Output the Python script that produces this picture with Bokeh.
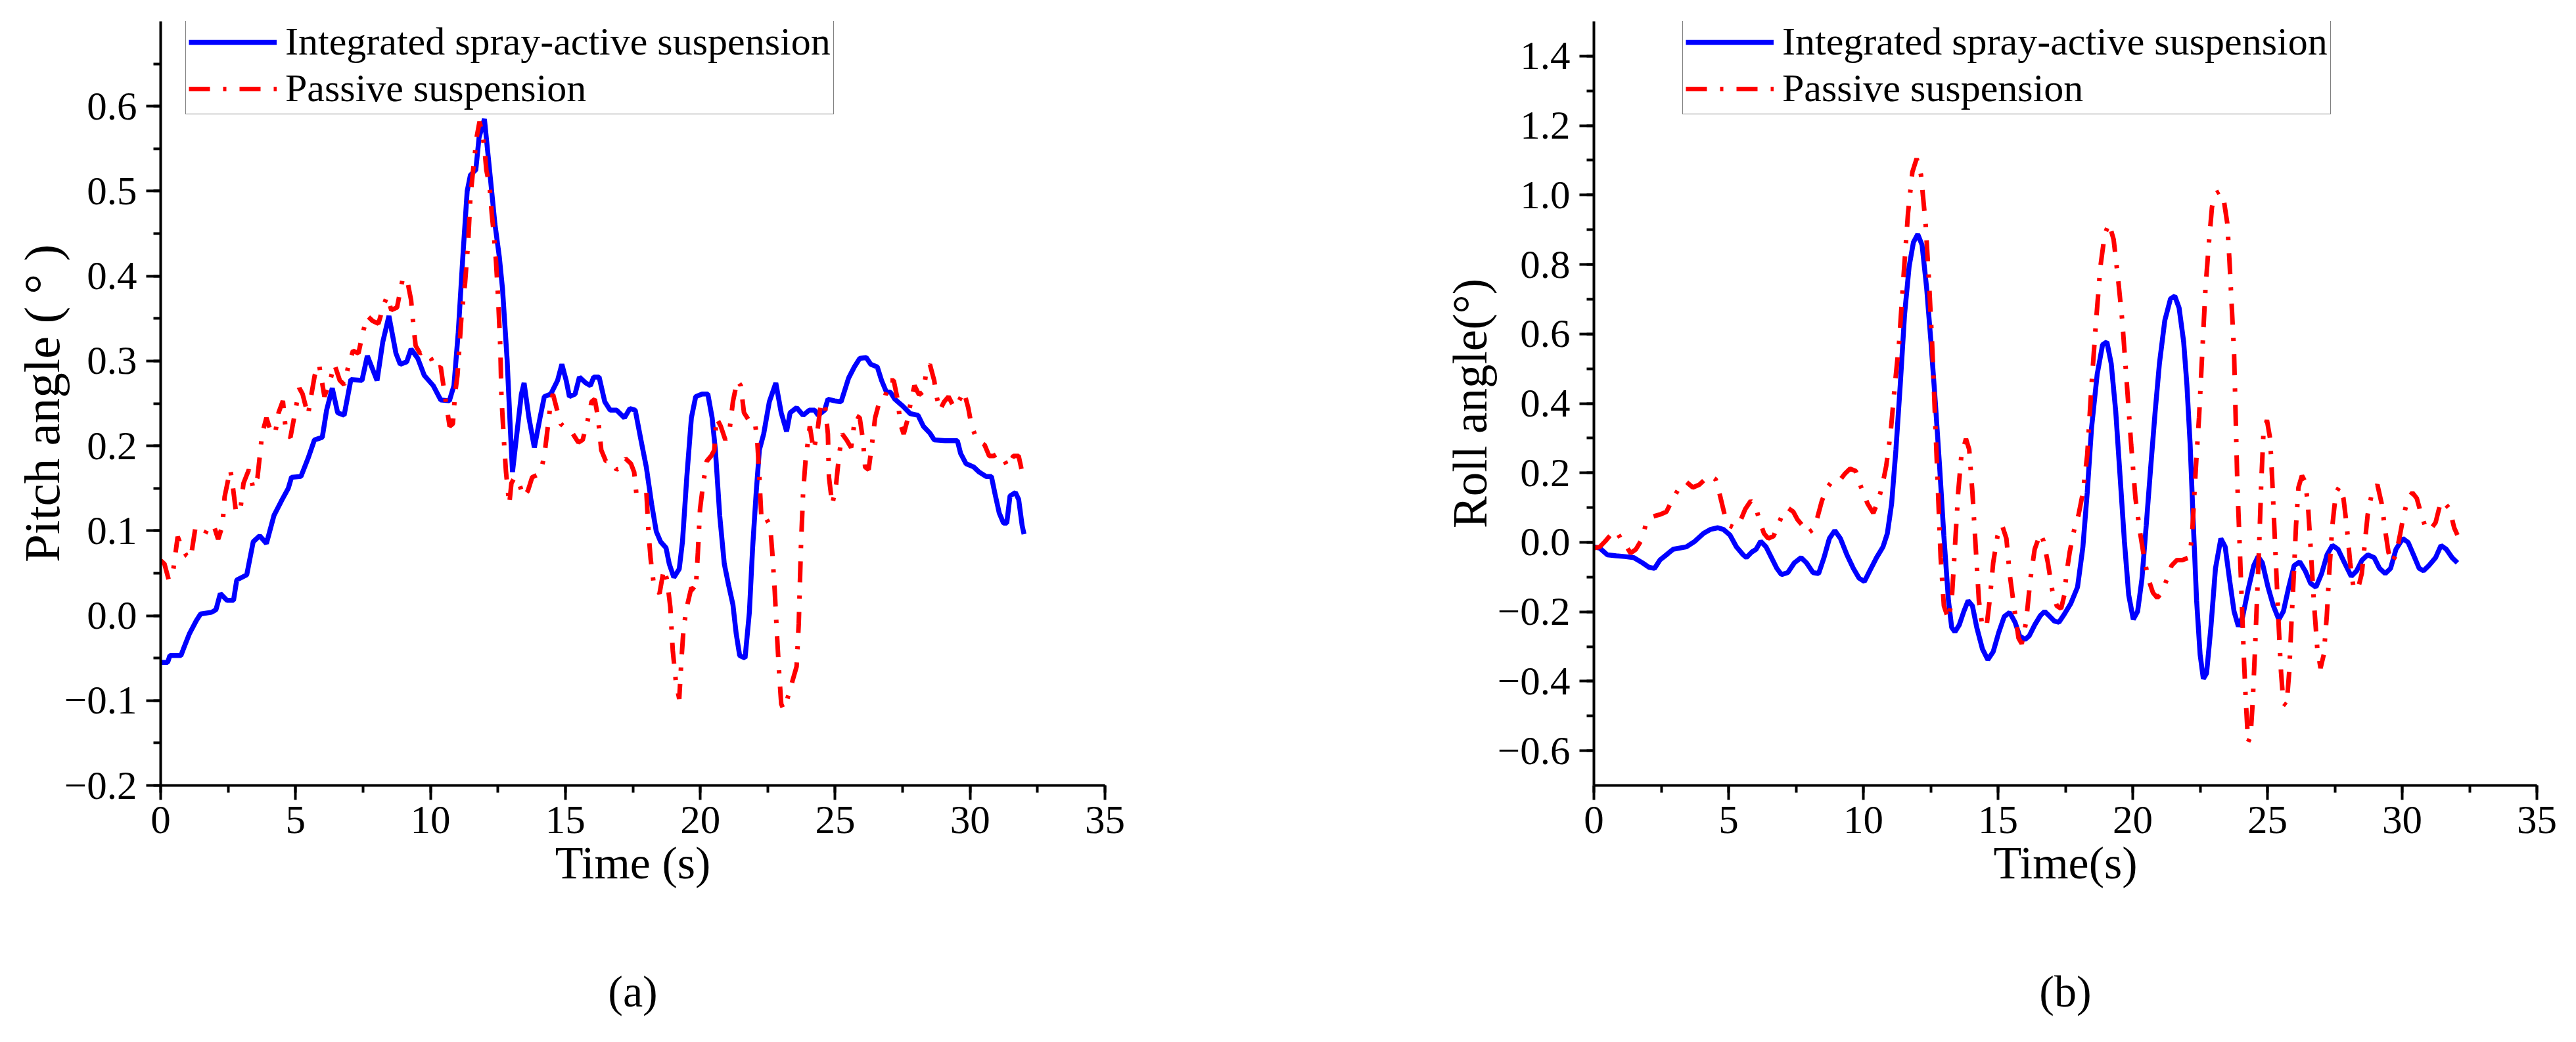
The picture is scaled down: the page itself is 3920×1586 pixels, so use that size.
from bokeh.plotting import figure
from bokeh.layouts import row
from bokeh.models import (Range1d, SingleIntervalTicker, Legend, LegendItem, Title,
                          CustomJSTickFormatter)
from bokeh.embed import file_html
from bokeh.resources import INLINE

# ---------------- data: (a) pitch angle ----------------
pitch_active_t = [0.0, 0.26, 0.34, 0.75, 0.87, 1.07, 1.32, 1.48, 1.89, 2.05, 2.21, 2.46, 2.7, 2.82, 3.19, 3.43,
                  3.67, 3.92, 4.2, 4.49, 4.73, 4.85, 5.2, 5.46, 5.7, 5.99, 6.15, 6.36, 6.56, 6.8, 7.05, 7.46,
                  7.66, 8.02, 8.23, 8.46, 8.72, 8.88, 9.12, 9.28, 9.53, 9.77, 10.1, 10.38, 10.7, 10.87, 11.03,
                  11.2, 11.36, 11.48, 11.68, 11.8, 12.0, 12.19, 12.39, 12.55, 12.67, 12.84, 12.96, 13.04, 13.2,
                  13.37, 13.47, 13.65, 13.85, 14.06, 14.22, 14.46, 14.71, 14.87, 15.03, 15.15, 15.36, 15.52,
                  15.76, 15.93, 16.05, 16.25, 16.46, 16.66, 16.9, 17.19, 17.39, 17.59, 17.8, 18.0, 18.2, 18.37,
                  18.53, 18.73, 18.85, 19.02, 19.22, 19.34, 19.5, 19.67, 19.83, 20.07, 20.28, 20.44, 20.56,
                  20.72, 20.89, 21.05, 21.21, 21.33, 21.46, 21.66, 21.82, 21.94, 22.07, 22.19, 22.35, 22.56,
                  22.8, 23.0, 23.2, 23.33, 23.57, 23.81, 24.04, 24.24, 24.37, 24.61, 24.73, 24.98, 25.22,
                  25.34, 25.5, 25.71, 25.91, 26.15, 26.32, 26.56, 26.72, 26.89, 27.05, 27.21, 27.5, 27.78,
                  28.07, 28.27, 28.51, 28.67, 29.08, 29.53, 29.65, 29.85, 30.14, 30.34, 30.59, 30.79, 30.92,
                  31.08, 31.24, 31.36, 31.48, 31.68, 31.8, 31.93, 32.0]
pitch_active = [-0.055, -0.055, -0.047, -0.047, -0.037, -0.021, -0.006, 0.002, 0.004, 0.007, 0.026, 0.018,
                0.018, 0.042, 0.048, 0.087, 0.094, 0.085, 0.118, 0.136, 0.15, 0.163, 0.164, 0.185, 0.207,
                0.21, 0.242, 0.268, 0.239, 0.236, 0.278, 0.277, 0.306, 0.277, 0.322, 0.353, 0.309, 0.296,
                0.299, 0.314, 0.303, 0.283, 0.271, 0.254, 0.253, 0.271, 0.334, 0.423, 0.5, 0.519, 0.525,
                0.563, 0.585, 0.525, 0.461, 0.423, 0.385, 0.302, 0.22, 0.169, 0.214, 0.261, 0.274, 0.233,
                0.198, 0.233, 0.258, 0.261, 0.277, 0.296, 0.277, 0.258, 0.261, 0.281, 0.274, 0.271, 0.281,
                0.281, 0.252, 0.242, 0.242, 0.233, 0.244, 0.242, 0.207, 0.175, 0.131, 0.099, 0.087, 0.08,
                0.061, 0.045, 0.055, 0.087, 0.163, 0.233, 0.258, 0.261, 0.261, 0.233, 0.195, 0.118, 0.061,
                0.036, 0.013, -0.021, -0.047, -0.05, 0.004, 0.08, 0.144, 0.195, 0.214, 0.252, 0.274, 0.239,
                0.217, 0.239, 0.245, 0.236, 0.242, 0.242, 0.236, 0.242, 0.255, 0.253, 0.252, 0.264, 0.28,
                0.293, 0.303, 0.304, 0.296, 0.293, 0.277, 0.264, 0.263, 0.255, 0.247, 0.238, 0.236, 0.223,
                0.215, 0.207, 0.206, 0.206, 0.191, 0.179, 0.175, 0.169, 0.164, 0.164, 0.144, 0.121, 0.109,
                0.109, 0.141, 0.145, 0.137, 0.106, 0.096]

pitch_passive_t = [0.0, 0.14, 0.3, 0.46, 0.63, 0.79, 0.95, 1.11, 1.28, 1.48, 1.64, 1.8, 1.97, 2.13, 2.29, 2.37,
                   2.58, 2.66, 2.78, 2.94, 3.07, 3.27, 3.43, 3.59, 3.76, 3.92, 4.08, 4.24, 4.37, 4.53, 4.65,
                   4.81, 4.98, 5.14, 5.26, 5.46, 5.59, 5.71, 5.87, 6.07, 6.28, 6.44, 6.64, 6.8, 6.97, 7.13,
                   7.33, 7.5, 7.66, 7.86, 8.07, 8.27, 8.39, 8.55, 8.76, 8.96, 9.12, 9.28, 9.37, 9.45, 9.61,
                   9.81, 10.02, 10.18, 10.38, 10.54, 10.71, 10.83, 10.91, 11.0, 11.07, 11.15, 11.28, 11.4,
                   11.48, 11.6, 11.72, 11.82, 11.93, 12.0, 12.07, 12.19, 12.27, 12.35, 12.43, 12.51, 12.59,
                   12.63, 12.72, 12.8, 12.92, 13.0, 13.12, 13.28, 13.45, 13.61, 13.77, 13.98, 14.1, 14.22,
                   14.34, 14.46, 14.54, 14.67, 14.83, 15.03, 15.28, 15.48, 15.64, 15.8, 15.97, 16.09, 16.21,
                   16.33, 16.5, 16.7, 16.9, 17.07, 17.23, 17.43, 17.55, 17.63, 17.8, 18.0, 18.08, 18.16,
                   18.28, 18.49, 18.65, 18.77, 18.89, 18.98, 19.1, 19.22, 19.3, 19.38, 19.5, 19.67, 19.83,
                   19.91, 19.99, 20.11, 20.24, 20.4, 20.52, 20.6, 20.76, 20.93, 21.09, 21.21, 21.37, 21.5,
                   21.62, 21.82, 22.02, 22.11, 22.19, 22.27, 22.43, 22.59, 22.67, 22.76, 22.84, 22.92, 23.0,
                   23.08, 23.2, 23.37, 23.57, 23.65, 23.73, 23.81, 23.9, 24.06, 24.2, 24.33, 24.45, 24.61,
                   24.73, 24.77, 24.89, 25.02, 25.14, 25.26, 25.42, 25.59, 25.75, 25.91, 26.03, 26.11, 26.24,
                   26.36, 26.48, 26.64, 26.85, 27.01, 27.17, 27.33, 27.41, 27.54, 27.7, 27.82, 27.94, 28.11,
                   28.27, 28.39, 28.51, 28.67, 28.76, 28.88, 29.04, 29.2, 29.41, 29.57, 29.77, 29.93, 30.06,
                   30.22, 30.38, 30.54, 30.71, 30.87, 31.03, 31.19, 31.4, 31.6, 31.8, 31.93, 32.0]
pitch_passive = [0.065, 0.061, 0.042, 0.052, 0.093, 0.08, 0.071, 0.067, 0.102, 0.102, 0.096, 0.106, 0.106,
                 0.09, 0.106, 0.14, 0.172, 0.156, 0.125, 0.121, 0.156, 0.172, 0.15, 0.163, 0.214, 0.233,
                 0.217, 0.214, 0.239, 0.253, 0.214, 0.21, 0.239, 0.268, 0.261, 0.236, 0.261, 0.283, 0.296,
                 0.258, 0.277, 0.296, 0.277, 0.272, 0.296, 0.312, 0.309, 0.334, 0.353, 0.347, 0.344, 0.366,
                 0.376, 0.36, 0.363, 0.395, 0.398, 0.372, 0.341, 0.318, 0.309, 0.312, 0.303, 0.29, 0.293,
                 0.258, 0.223, 0.226, 0.261, 0.283, 0.315, 0.353, 0.391, 0.442, 0.493, 0.531, 0.565, 0.582,
                 0.566, 0.551, 0.525, 0.506, 0.474, 0.449, 0.417, 0.372, 0.315, 0.258, 0.207, 0.169, 0.131,
                 0.156, 0.163, 0.156, 0.14, 0.147, 0.163, 0.166, 0.172, 0.188, 0.22, 0.252, 0.261, 0.245,
                 0.226, 0.22, 0.214, 0.204, 0.207, 0.226, 0.252, 0.255, 0.233, 0.195, 0.182, 0.182, 0.172,
                 0.175, 0.185, 0.179, 0.169, 0.144, 0.147, 0.147, 0.099, 0.067, 0.036, 0.026, 0.055, 0.042,
                 0.01, -0.041, -0.079, -0.098, -0.053, -0.015, 0.01, 0.033, 0.029, 0.074, 0.125, 0.156, 0.182,
                 0.188, 0.195, 0.233, 0.223, 0.207, 0.22, 0.252, 0.277, 0.271, 0.239, 0.229, 0.229, 0.207,
                 0.163, 0.112, 0.115, 0.106, 0.074, 0.029, -0.021, -0.066, -0.104, -0.11, -0.101, -0.082,
                 -0.06, -0.009, 0.08, 0.144, 0.182, 0.223, 0.195, 0.214, 0.245, 0.252, 0.214, 0.163, 0.131,
                 0.15, 0.188, 0.214, 0.207, 0.198, 0.236, 0.233, 0.207, 0.175, 0.172, 0.201, 0.233, 0.252,
                 0.258, 0.277, 0.277, 0.252, 0.226, 0.214, 0.233, 0.255, 0.271, 0.26, 0.264, 0.29, 0.296,
                 0.277, 0.258, 0.242, 0.252, 0.258, 0.245, 0.252, 0.264, 0.245, 0.223, 0.21, 0.204, 0.201,
                 0.188, 0.188, 0.191, 0.188, 0.175, 0.188, 0.188, 0.169, 0.166]

# ---------------- data: (b) roll angle ----------------
roll_active_t = [0.0, 0.22, 0.5, 0.83, 1.15, 1.48, 1.8, 2.05, 2.25, 2.45, 2.69, 2.94, 3.43, 3.75, 4.07, 4.32,
                 4.6, 4.81, 5.05, 5.29, 5.54, 5.66, 5.86, 6.02, 6.19, 6.39, 6.59, 6.79, 6.96, 7.2, 7.44, 7.69,
                 7.89, 8.13, 8.34, 8.54, 8.74, 8.94, 9.15, 9.39, 9.63, 9.84, 10.04, 10.24, 10.49, 10.73,
                 10.89, 11.05, 11.21, 11.37, 11.53, 11.7, 11.86, 12.02, 12.18, 12.35, 12.51, 12.67, 12.83,
                 12.99, 13.16, 13.28, 13.4, 13.56, 13.73, 13.89, 14.05, 14.21, 14.42, 14.62, 14.82, 15.02,
                 15.23, 15.43, 15.63, 15.8, 16.0, 16.16, 16.36, 16.57, 16.73, 16.89, 17.09, 17.26, 17.46,
                 17.7, 17.95, 18.15, 18.31, 18.47, 18.68, 18.88, 19.04, 19.2, 19.37, 19.53, 19.69, 19.85,
                 20.02, 20.18, 20.34, 20.5, 20.67, 20.83, 20.99, 21.19, 21.4, 21.56, 21.72, 21.89, 22.01,
                 22.13, 22.25, 22.37, 22.5, 22.62, 22.74, 22.9, 23.07, 23.27, 23.43, 23.59, 23.76, 23.92,
                 24.08, 24.28, 24.49, 24.65, 24.81, 25.02, 25.22, 25.42, 25.59, 25.79, 25.99, 26.2, 26.4,
                 26.6, 26.8, 27.01, 27.21, 27.41, 27.62, 27.86, 28.11, 28.31, 28.51, 28.72, 28.96, 29.16,
                 29.37, 29.57, 29.77, 30.02, 30.22, 30.42, 30.63, 30.79, 30.99, 31.24, 31.44, 31.64, 31.85,
                 32.05]
roll_active = [-0.013, -0.017, -0.036, -0.039, -0.041, -0.044, -0.059, -0.072, -0.075, -0.051, -0.036, -0.02,
               -0.013, 0.003, 0.026, 0.037, 0.042, 0.037, 0.021, -0.013, -0.036, -0.044, -0.028, -0.02, 0.003,
               -0.013, -0.044, -0.075, -0.093, -0.087, -0.059, -0.044, -0.059, -0.087, -0.09, -0.044, 0.011,
               0.034, 0.011, -0.036, -0.075, -0.103, -0.113, -0.082, -0.044, -0.013, 0.025, 0.111, 0.267,
               0.453, 0.655, 0.794, 0.864, 0.887, 0.856, 0.732, 0.577, 0.406, 0.22, 0.018, -0.168, -0.245,
               -0.258, -0.238, -0.199, -0.168, -0.183, -0.245, -0.307, -0.338, -0.315, -0.261, -0.214,
               -0.202, -0.23, -0.269, -0.28, -0.269, -0.238, -0.211, -0.199, -0.211, -0.227, -0.23, -0.207,
               -0.176, -0.129, -0.013, 0.143, 0.329, 0.484, 0.569, 0.577, 0.515, 0.375, 0.189, 0.003,
               -0.152, -0.222, -0.199, -0.106, 0.049, 0.22, 0.375, 0.515, 0.639, 0.701, 0.709, 0.675, 0.577,
               0.453, 0.282, 0.049, -0.168, -0.323, -0.393, -0.377, -0.245, -0.075, 0.011, -0.013, -0.106,
               -0.199, -0.242, -0.214, -0.137, -0.067, -0.041, -0.059, -0.129, -0.183, -0.222, -0.199,
               -0.129, -0.067, -0.056, -0.082, -0.118, -0.129, -0.09, -0.036, -0.009, -0.02, -0.059, -0.098,
               -0.082, -0.051, -0.036, -0.044, -0.075, -0.09, -0.075, -0.02, 0.011, 0.0, -0.036, -0.075,
               -0.082, -0.067, -0.044, -0.009, -0.02, -0.044, -0.059]

roll_passive_t = [0.0, 0.22, 0.42, 0.62, 0.83, 0.99, 1.15, 1.36, 1.56, 1.76, 1.92, 2.13, 2.45, 2.69, 2.94,
                  3.18, 3.43, 3.67, 3.91, 4.12, 4.32, 4.52, 4.68, 4.85, 5.01, 5.21, 5.41, 5.62, 5.82, 5.98,
                  6.14, 6.31, 6.47, 6.67, 6.83, 7.0, 7.2, 7.4, 7.56, 7.77, 7.93, 8.13, 8.3, 8.46, 8.66, 8.86,
                  9.11, 9.31, 9.51, 9.72, 9.88, 10.0, 10.16, 10.37, 10.53, 10.69, 10.85, 11.01, 11.17, 11.33,
                  11.49, 11.66, 11.82, 11.98, 12.14, 12.31, 12.43, 12.55, 12.63, 12.71, 12.79, 12.87, 12.99,
                  13.16, 13.28, 13.4, 13.52, 13.64, 13.81, 13.93, 14.05, 14.17, 14.29, 14.42, 14.58, 14.7,
                  14.82, 14.98, 15.15, 15.31, 15.43, 15.59, 15.76, 15.88, 16.04, 16.2, 16.36, 16.57, 16.69,
                  16.85, 17.01, 17.18, 17.34, 17.46, 17.54, 17.66, 17.82, 17.99, 18.15, 18.31, 18.47, 18.64,
                  18.8, 18.96, 19.12, 19.29, 19.45, 19.61, 19.77, 19.94, 20.1, 20.26, 20.42, 20.58, 20.75,
                  20.91, 21.07, 21.27, 21.44, 21.64, 21.84, 22.05, 22.13, 22.21, 22.29, 22.37, 22.46, 22.54,
                  22.62, 22.7, 22.82, 22.94, 23.07, 23.23, 23.39, 23.51, 23.59, 23.67, 23.76, 23.8, 23.84,
                  23.88, 23.94, 24.0, 24.06, 24.12, 24.19, 24.28, 24.37, 24.45, 24.53, 24.61, 24.69, 24.77,
                  24.85, 24.98, 25.1, 25.18, 25.26, 25.34, 25.42, 25.5, 25.59, 25.71, 25.81, 25.89, 25.98,
                  26.06, 26.15, 26.28, 26.4, 26.5, 26.6, 26.72, 26.85, 26.97, 27.09, 27.2, 27.29, 27.41,
                  27.54, 27.68, 27.82, 27.94, 28.07, 28.19, 28.35, 28.5, 28.62, 28.72, 28.88, 29.08, 29.24,
                  29.37, 29.49, 29.61, 29.77, 29.93, 30.06, 30.22, 30.38, 30.54, 30.71, 30.87, 31.03, 31.24,
                  31.44, 31.6, 31.76, 31.93, 32.05]
roll_passive = [-0.017, -0.013, 0.003, 0.021, 0.034, 0.011, -0.005, -0.031, -0.02, 0.006, 0.049, 0.073, 0.08,
                0.088, 0.127, 0.158, 0.174, 0.158, 0.166, 0.181, 0.192, 0.181, 0.135, 0.08, 0.049, 0.042,
                0.057, 0.096, 0.119, 0.108, 0.065, 0.026, 0.011, 0.018, 0.049, 0.08, 0.099, 0.088, 0.065,
                0.046, 0.026, 0.037, 0.073, 0.119, 0.158, 0.177, 0.177, 0.197, 0.212, 0.205, 0.166, 0.143,
                0.111, 0.084, 0.115, 0.158, 0.22, 0.313, 0.453, 0.577, 0.763, 0.949, 1.066, 1.105, 1.058,
                0.918, 0.763, 0.577, 0.422, 0.267, 0.111, -0.044, -0.183, -0.222, -0.168, -0.013, 0.143,
                0.251, 0.298, 0.267, 0.143, -0.013, -0.168, -0.245, -0.238, -0.16, -0.059, 0.018, 0.049,
                0.011, -0.09, -0.183, -0.276, -0.292, -0.23, -0.106, -0.02, 0.026, 0.003, -0.059, -0.137,
                -0.183, -0.191, -0.152, -0.09, -0.028, 0.034, 0.08, 0.143, 0.251, 0.453, 0.639, 0.794,
                0.887, 0.918, 0.872, 0.763, 0.639, 0.468, 0.282, 0.127, 0.034, -0.044, -0.106, -0.145,
                -0.16, -0.145, -0.106, -0.067, -0.051, -0.051, -0.045, -0.031, 0.034, 0.143, 0.251, 0.36,
                0.484, 0.608, 0.732, 0.856, 0.965, 1.004, 1.011, 0.98, 0.918, 0.81, 0.686, 0.546, 0.422,
                0.298, 0.174, 0.049, -0.075, -0.199, -0.323, -0.447, -0.575, -0.56, -0.463, -0.323, -0.168,
                -0.013, 0.174, 0.313, 0.352, 0.298, 0.174, 0.034, -0.106, -0.245, -0.37, -0.463, -0.47,
                -0.37, -0.23, -0.09, 0.049, 0.158, 0.192, 0.174, 0.111, -0.013, -0.168, -0.307, -0.362,
                -0.323, -0.214, -0.09, 0.049, 0.143, 0.161, 0.127, 0.049, -0.059, -0.129, -0.137, -0.09,
                0.003, 0.08, 0.143, 0.166, 0.111, 0.034, -0.028, -0.059, -0.036, 0.026, 0.08, 0.127, 0.143,
                0.127, 0.08, 0.042, 0.034, 0.057, 0.119, 0.111, 0.096, 0.042, 0.021]

series_names = ["Integrated spray-active suspension", "Passive suspension"]

FONT = "Liberation Serif"
BLUE = "#0000FF"
RED = "#FF0000"

YFMT = """
if (Math.abs(tick) < 1e-9) { return "0.0"; }
return tick.toFixed(1).replace("-", "\u2212");
"""


def make_panel(panel_text, t1, y1, t2, y2, yr, ystep, ylabel, xlabel,
               border_left, frame_w, border_right, legend_loc, ylab_standoff, ylab_size):
    p = figure(frame_width=frame_w, frame_height=1163,
               min_border_left=border_left, min_border_right=border_right,
               min_border_top=32, min_border_bottom=375,
               x_range=Range1d(0, 35), y_range=Range1d(*yr),
               output_backend="svg", toolbar_location=None,
               background_fill_color="white", border_fill_color="white")
    p.outline_line_color = None
    p.grid.visible = False

    r1 = p.line(t1, y1, line_color=BLUE, line_width=7.5)
    r2 = p.line(t2, y2, line_color=RED, line_width=7, line_dash="32 20 5 20")

    p.xaxis.ticker = SingleIntervalTicker(interval=5, num_minor_ticks=2)
    p.yaxis.ticker = SingleIntervalTicker(interval=ystep, num_minor_ticks=2)
    p.yaxis.formatter = CustomJSTickFormatter(code=YFMT)

    for ax in (p.xaxis[0], p.yaxis[0]):
        ax.axis_line_width = 4
        ax.axis_line_color = "black"
        ax.major_tick_line_width = 4
        ax.minor_tick_line_width = 4
        ax.major_tick_out = 22
        ax.major_tick_in = 0
        ax.minor_tick_out = 11
        ax.minor_tick_in = 0
        ax.major_label_text_font = FONT
        ax.major_label_text_font_size = "61px"
        ax.major_label_text_color = "black"
        ax.axis_label_text_font = FONT
        ax.axis_label_text_font_size = "70px"
        ax.axis_label_text_font_style = "normal"
        ax.axis_label_text_color = "black"
    p.yaxis.axis_label_text_font_size = ylab_size
    p.xaxis.axis_label = xlabel
    p.yaxis.axis_label = ylabel
    p.xaxis.major_label_standoff = 10
    p.yaxis.major_label_standoff = 14
    p.xaxis.axis_label_standoff = 4
    p.yaxis.axis_label_standoff = ylab_standoff

    legend = Legend(items=[LegendItem(label=series_names[0], renderers=[r1]),
                           LegendItem(label=series_names[1], renderers=[r2])],
                    location=legend_loc)
    legend.label_text_font = FONT
    legend.label_text_font_size = "60px"
    legend.label_text_color = "black"
    legend.glyph_width = 134
    legend.glyph_height = 62
    legend.label_height = 62
    legend.label_standoff = 13
    legend.padding = 4
    legend.spacing = 2
    legend.margin = 0
    legend.border_line_color = "black"
    legend.border_line_width = 1.5
    legend.background_fill_color = "white"
    legend.background_fill_alpha = 1.0
    p.add_layout(legend, "center")

    # invisible spacer between the axis label and the panel caption
    spacer = Title(text=" ", text_font_size="10px", standoff=96)
    p.add_layout(spacer, "below")
    cap = Title(text=panel_text, align="center", text_font=FONT, text_font_size="68px",
                text_font_style="normal", text_color="black", standoff=10)
    p.add_layout(cap, "below")
    return p


p1 = make_panel("(a)", pitch_active_t, pitch_active, pitch_passive_t, pitch_passive,
                (-0.2, 0.7), 0.1, "Pitch angle ( \u00b0 )", "Time (s)",
                244, 1437, 319, (38, 1021), -12, "77px")
p2 = make_panel("(b)", roll_active_t, roll_active, roll_passive_t, roll_passive,
                (-0.7, 1.5), 0.2, "Roll angle(\u00b0)", "Time(s)",
                425, 1435, 44, (135, 1021), -2, "73px")

layout = row(p1, p2)
open("out.html", "w").write(file_html(layout, INLINE))
